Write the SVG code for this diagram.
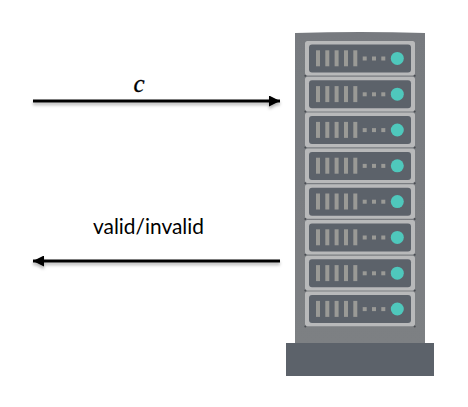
<svg xmlns="http://www.w3.org/2000/svg" xmlns:xlink="http://www.w3.org/1999/xlink" width="468" height="407" viewBox="0 0 468 407">
<style>
.conn{fill:none;stroke:#000;stroke-width:3}
.lbl{fill:#000}
.outer{fill:#b8b9ba}
.inner{fill:#5c626b}
.bar{fill:#9a9a96}
.led{fill:#4fc8bc}
.rivet{fill:#4a4d52}
</style>
<defs>
<marker id="head" markerUnits="userSpaceOnUse" markerWidth="11" markerHeight="11" refX="10" refY="5" orient="auto-start-reverse" viewBox="0 0 10 10"><path d="M0 0L10 5L0 10Z" fill="#000"/></marker>
<filter id="soft" filterUnits="userSpaceOnUse" x="0" y="60" width="320" height="240"><feDropShadow dx="0" dy="2.5" stdDeviation="1.5" flood-color="#000" flood-opacity="0.3"/></filter>
<filter id="blur" x="-5%" y="-5%" width="110%" height="110%"><feGaussianBlur stdDeviation="0.55"/></filter>
<linearGradient id="tower" x1="0" y1="0" x2="0" y2="1"><stop offset="0" stop-color="#777a7f"/><stop offset="1" stop-color="#7d8083"/></linearGradient>
<g id="unit">
<rect class="outer" x="305" y="41" width="110" height="34.6" rx="2.5"/>
<rect class="inner" x="309" y="44.5" width="102" height="28" rx="3"/>
<g class="bar">
<rect x="316" y="50.3" width="4" height="16"/><rect x="325.3" y="50.3" width="4" height="16"/><rect x="334.6" y="50.3" width="4" height="16"/><rect x="344" y="50.3" width="4" height="16"/><rect x="353.3" y="50.3" width="4" height="16"/>
<rect x="362.7" y="56.5" width="4" height="4"/><rect x="372" y="56.5" width="4" height="4"/><rect x="381.3" y="56.5" width="4" height="4"/>
</g>
<circle class="led" cx="397.3" cy="58.4" r="6.5"/>
<circle class="rivet" cx="305.3" cy="75.8" r="1"/><circle class="rivet" cx="414.7" cy="75.8" r="1"/>
</g>
</defs>
<rect width="468" height="407" fill="#fff"/>
<g id="connectors" filter="url(#soft)">
<line class="conn" x1="33" y1="101" x2="280" y2="101" marker-end="url(#head)"/>
<line class="conn" x1="280" y1="261" x2="33" y2="261" marker-end="url(#head)"/>
</g>
<g id="label-c"><text class="lbl" x="139" y="92" text-anchor="middle" font-family="'Liberation Serif',serif" font-style="italic" font-size="25" stroke="#000" stroke-width="0.3">c</text></g>
<g id="label-valid"><text class="lbl" x="148.5" y="234" text-anchor="middle" font-family="Lato,sans-serif" font-size="21" textLength="111" lengthAdjust="spacingAndGlyphs">valid/invalid</text></g>
<g id="server" filter="url(#blur)">
<path d="M295 33Q360 31 425 33V344H295Z" fill="url(#tower)"/>
<rect x="286" y="343" width="148" height="33" fill="#5c626b"/>
<use xlink:href="#unit" href="#unit"/>
<use xlink:href="#unit" href="#unit" y="35.8"/>
<use xlink:href="#unit" href="#unit" y="71.6"/>
<use xlink:href="#unit" href="#unit" y="107.4"/>
<use xlink:href="#unit" href="#unit" y="143.2"/>
<use xlink:href="#unit" href="#unit" y="179"/>
<use xlink:href="#unit" href="#unit" y="214.8"/>
<use xlink:href="#unit" href="#unit" y="250.6"/>
</g>
</svg>
